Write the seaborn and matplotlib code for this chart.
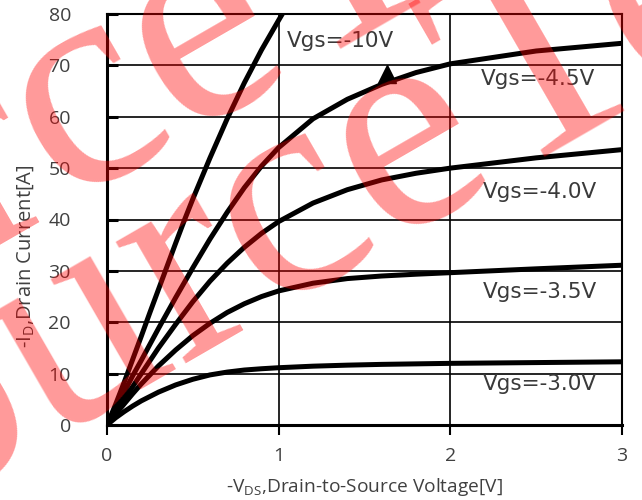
import numpy as np
import pandas as pd
import matplotlib
matplotlib.use("Agg")
import matplotlib.pyplot as plt
import seaborn as sns

# ---- data ----
vds = [0, 0.05, 0.1, 0.15, 0.2, 0.3, 0.4, 0.5, 0.6, 0.7, 0.8, 0.9, 1.0,
       1.2, 1.4, 1.6, 1.8, 2.0, 2.5, 3.0]
id_vgs_30 = [0, 1.4, 2.6, 3.7, 4.7, 6.4, 7.8, 8.9, 9.75, 10.3, 10.7, 10.95, 11.15,
             11.45, 11.65, 11.8, 11.9, 12.0, 12.15, 12.3]
id_vgs_35 = [0, 2.1, 4.1, 6.1, 8.0, 11.5, 14.6, 17.4, 19.8, 21.9, 23.6, 25.0, 26.1,
             27.6, 28.5, 29.0, 29.35, 29.65, 30.4, 31.1]
id_vgs_40 = [0, 2.5, 5.0, 7.5, 10.0, 15.0, 19.6, 24.0, 28.0, 31.5, 34.6, 37.3, 39.6,
             43.2, 45.8, 47.7, 49.0, 50.0, 52.0, 53.6]
id_vgs_45 = [0, 3.2, 6.4, 9.6, 12.6, 18.8, 24.8, 30.6, 36.2, 41.4, 46.2, 50.4, 54.0,
             59.6, 63.4, 66.3, 68.6, 70.3, 72.8, 74.3]
vds_10 = [0, 0.05, 0.1, 0.15, 0.2, 0.25, 0.3, 0.35, 0.4, 0.45, 0.5, 0.6, 0.7, 0.8, 0.9, 1.0, 1.03]
id_vgs_10 = [0, 4.0, 8.3, 12.8, 17.3, 21.9, 26.4, 30.9, 35.4, 39.8, 44.0, 52.0, 59.6,
             66.6, 73.0, 78.8, 80.5]

labels = ["Vgs=-10V", "Vgs=-4.5V", "Vgs=-4.0V", "Vgs=-3.5V", "Vgs=-3.0V"]
label_x = [1.05, 2.18, 2.19, 2.19, 2.19]
label_y = [74.7, 67.3, 45.4, 25.9, 8.0]

arrow_x = [1.63]
arrow_y = [68.4]

x_ticks = [0, 1, 2, 3]
y_ticks = [0, 10, 20, 30, 40, 50, 60, 70, 80]

watermark = "SourceTech"

frames = []
for name, xs, ys in [("-10V", vds_10, id_vgs_10), ("-4.5V", vds, id_vgs_45),
                     ("-4.0V", vds, id_vgs_40), ("-3.5V", vds, id_vgs_35),
                     ("-3.0V", vds, id_vgs_30)]:
    frames.append(pd.DataFrame({"vds": xs, "id": ys, "vgs": name}))
df = pd.concat(frames, ignore_index=True)

sns.set_theme(style="white")
plt.rcParams["font.family"] = ["Open Sans", "DejaVu Sans"]
plt.rcParams["mathtext.fontset"] = "custom"
plt.rcParams["mathtext.rm"] = "Open Sans"

fig = plt.figure(figsize=(6.42, 5.0), dpi=100)
ax = fig.add_axes([107 / 642, 75 / 500, 515 / 642, 411 / 500])

sns.lineplot(data=df, x="vds", y="id", hue="vgs", units="vgs", estimator=None,
             palette=["black"] * 5, linewidth=3.6, legend=False, sort=False, ax=ax,
             solid_joinstyle="round", solid_capstyle="round")

ax.plot(arrow_x, arrow_y, marker="^", markersize=13, color="black", linestyle="none")

ax.set_xlim(0, 3)
ax.set_ylim(0, 80)
ax.set_xticks(x_ticks)
ax.set_yticks(y_ticks)
ax.grid(True, color="black", linewidth=1.2)
ax.set_axisbelow(True)
for s in ax.spines.values():
    s.set_color("black")
    s.set_linewidth(1.5)
ax.spines["left"].set_linewidth(2.2)
ax.spines["bottom"].set_linewidth(2.2)

ax.tick_params(axis="x", direction="out", length=7, width=1.5, color="black",
               labelsize=14, labelcolor="#404040", pad=9, bottom=True)
ax.tick_params(axis="y", direction="in", length=8, width=2.2, color="black",
               labelsize=14, labelcolor="#404040", pad=26, left=True)

ax.set_xlabel(r"-V$_\mathregular{DS}$,Drain-to-Source Voltage[V]", fontsize=13.8, color="#404040")
ax.set_ylabel(r"-I$_\mathregular{D}$,Drain Current[A]", fontsize=14.5, color="#404040")
ax.xaxis.set_label_coords(0.5, -0.125)
ax.yaxis.set_label_coords(-0.138, 0.41)

for t, x, y in zip(labels, label_x, label_y):
    ax.text(x, y, t, fontsize=15.5, color="#3a3a3a", ha="left", va="center",
            family="DejaVu Sans")

# watermark (two diagonal rows)
for wx, wy in [(-0.363, -0.186), (-0.68, 0.03)]:
    fig.text(wx, wy, watermark, fontsize=220, family="Liberation Serif",
             color=(1.0, 0.0, 0.0), alpha=0.4, rotation=30, rotation_mode="anchor",
             ha="left", va="baseline", zorder=10)

fig.savefig("out.png", dpi=100)
